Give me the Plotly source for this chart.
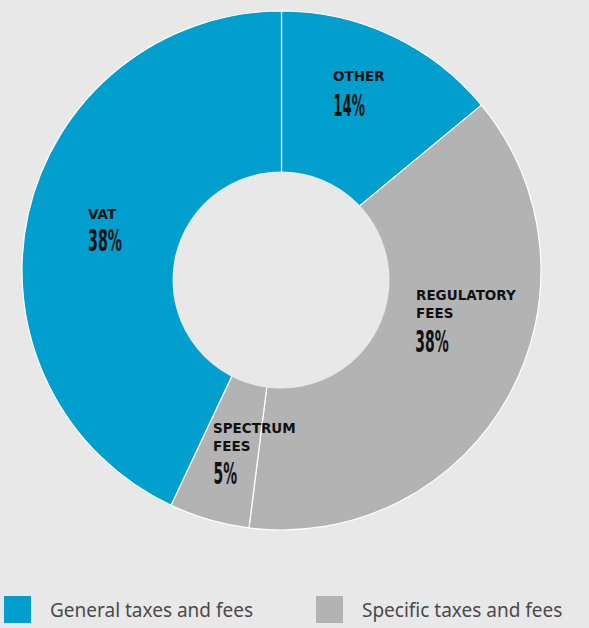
import plotly.graph_objects as go

# ---- data ----
categories = ["OTHER", "REGULATORY FEES", "SPECTRUM FEES", "VAT"]
values = [14, 38, 5, 43]                      # slice shares
shown_pct = ["14%", "38%", "5%", "38%"]       # percentages as printed on the chart
groups = ["General taxes and fees", "Specific taxes and fees", "Specific taxes and fees", "General taxes and fees"]
legend_labels = ["General taxes and fees", "Specific taxes and fees"]

# ---- styles ----
W, H = 589, 628
BG = "#e8e8e8"
BLUE = "#009fcd"
GREY = "#b3b3b3"
group_color = {"General taxes and fees": BLUE, "Specific taxes and fees": GREY}
colors = [group_color[g] for g in groups]

# pie geometry in pixels (center x, center y, radius)
cx, cy, r = 281.5, 270.5, 259.5
# inner hole (pixels): centre and radius
hx, hy, hr = 281, 280, 108.5

# label positions (pixels): name left x, name centre y, pct centre x, pct centre y, pct width
label_pos = [
    (331, 76, 348.5, 104.5, 31.5),
    (414, 303.5, 431.5, 340.5, 33.5),
    (211, 437, 225, 472.5, 23.5),
    (86, 214, 104.7, 239.5, 34),
]
name_text = ["OTHER", "REGULATORY<br>FEES", "SPECTRUM<br>FEES", "VAT"]

fig = go.Figure()
fig.add_trace(go.Pie(
    labels=categories,
    values=values,
    sort=False,
    direction="clockwise",
    rotation=0,
    hole=0.3,
    marker=dict(colors=colors, line=dict(color="white", width=1.2)),
    textinfo="none",
    hovertemplate="%{label}: %{percent}<extra></extra>",
    showlegend=False,
    domain=dict(x=[(cx - r) / W, (cx + r) / W], y=[1 - (cy + r) / H, 1 - (cy - r) / H]),
))

shapes = [dict(type="circle", xref="paper", yref="paper", layer="above",
               x0=(hx - hr) / W, x1=(hx + hr) / W, y0=1 - (hy + hr) / H, y1=1 - (hy - hr) / H,
               fillcolor=BG, line=dict(width=0))]

ann = []
widths = {}
for (lx, ny, pcx, py, pw), nm, pc in zip(label_pos, name_text, shown_pct):
    ann.append(dict(x=lx / W, y=1 - ny / H, xref="paper", yref="paper", xanchor="left", yanchor="middle",
                    text="<b>" + nm + "</b>", showarrow=False, align="left",
                    font=dict(family="'DejaVu Sans', sans-serif", size=13.5, color="#111111")))
    widths[len(ann)] = pw
    ann.append(dict(x=pcx / W, y=1 - py / H, xref="paper", yref="paper", xanchor="center", yanchor="middle",
                    text="<b>" + pc + "</b>", showarrow=False, align="center",
                    font=dict(family="'DejaVu Sans', sans-serif", size=31, color="#111111")))

# legend (squares + text)
leg_x = [4, 316]
for lx, lab in zip(leg_x, legend_labels):
    shapes.append(dict(type="rect", xref="paper", yref="paper",
                       x0=lx / W, x1=(lx + 27) / W, y0=1 - 623 / H, y1=1 - 596 / H,
                       fillcolor=group_color[lab], line=dict(width=0)))
    ann.append(dict(x=(lx + 44) / W, y=1 - 610 / H, xref="paper", yref="paper", xanchor="left", yanchor="middle",
                    text=lab, showarrow=False,
                    font=dict(family="'Noto Sans', 'DejaVu Sans', sans-serif", size=19, color="#4a4a4a")))

fig.update_layout(
    width=W, height=H,
    margin=dict(l=0, r=0, t=0, b=0),
    paper_bgcolor=BG, plot_bgcolor=BG,
    annotations=ann, shapes=shapes,
    showlegend=False,
)

wjs = ",".join("'%d':%s" % (k, v) for k, v in widths.items())
post = """
document.body.style.margin='0';document.body.style.padding='0';document.body.style.background='#e8e8e8';
var W={%s};
function condense(){
  document.querySelectorAll('g.annotation').forEach(function(g){
    var i=g.getAttribute('data-index');
    if(W[i]!==undefined){var t=g.querySelector('text.annotation-text');
      if(t){t.setAttribute('textLength',W[i]);t.setAttribute('lengthAdjust','spacingAndGlyphs');}}
  });
}
condense();
var gd=document.getElementById('{plot_id}');
if(gd&&gd.on){gd.on('plotly_afterplot',condense);}
""" % wjs

fig.write_html("out.html", config={"displayModeBar": False}, post_script=post)
